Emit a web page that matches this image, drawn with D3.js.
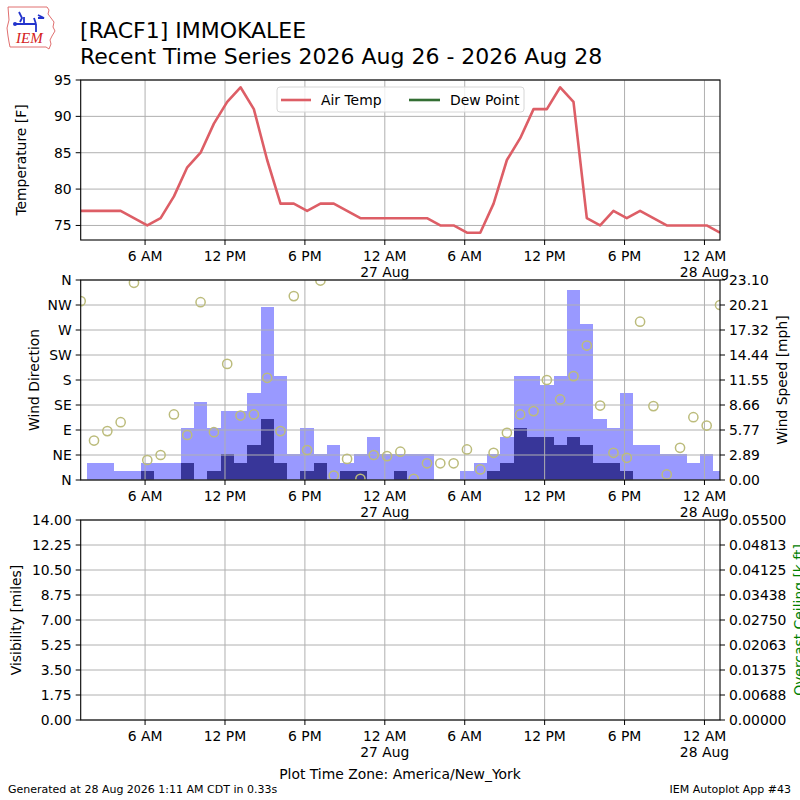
<!DOCTYPE html>
<html><head><meta charset="utf-8">
<script src="https://cdn.jsdelivr.net/npm/d3@7"></script>
<style>body{margin:0;background:#fff}svg{display:block}text{font-family:"DejaVu Sans",sans-serif;fill:#000}</style>
</head><body><svg id="c" width="800" height="800"></svg>
<script>
// ---------------- DATA ----------------
const obsTimes = [
"2026-08-26 01:10","2026-08-26 02:10","2026-08-26 03:10","2026-08-26 04:10","2026-08-26 05:10","2026-08-26 06:10",
"2026-08-26 07:10","2026-08-26 08:10","2026-08-26 09:10","2026-08-26 10:10","2026-08-26 11:10","2026-08-26 12:10",
"2026-08-26 13:10","2026-08-26 14:10","2026-08-26 15:10","2026-08-26 16:10","2026-08-26 17:10","2026-08-26 18:10",
"2026-08-26 19:10","2026-08-26 20:10","2026-08-26 21:10","2026-08-26 22:10","2026-08-26 23:10","2026-08-27 00:10",
"2026-08-27 01:10","2026-08-27 02:10","2026-08-27 03:10","2026-08-27 04:10","2026-08-27 05:10","2026-08-27 06:10",
"2026-08-27 07:10","2026-08-27 08:10","2026-08-27 09:10","2026-08-27 10:10","2026-08-27 11:10","2026-08-27 12:10",
"2026-08-27 13:10","2026-08-27 14:10","2026-08-27 15:10","2026-08-27 16:10","2026-08-27 17:10","2026-08-27 18:10",
"2026-08-27 19:10","2026-08-27 20:10","2026-08-27 21:10","2026-08-27 22:10","2026-08-27 23:10","2026-08-28 00:10",
"2026-08-28 01:10"];
const airTemp = [77,77,77,77,76,75,76,79,83,85,89,92,94,91,84,78,78,77,78,78,77,76,76,76,
                 76,76,76,75,75,74,74,78,84,87,91,91,94,92,76,75,77,76,77,76,75,75,75,75,74];
const dewPoint = []; // no dew point observations in this period
const windGust = [0,2,2,1,1,2,2,2,6,9,6,8,8,10,20,12,3,6,3,4,2,3,5,3,
                  3,3,3,0,0,1,2,3,5,12,12,11,12,22,18,7,6,10,4,4,3,3,2,3,1];
const windSpeed = [0,0,0,0,0,1,0,0,2,0,1,3,2,4,7,2,0,1,2,0,1,1,0,0,
                   1,0,0,0,0,0,0,1,2,6,5,5,4,5,4,2,2,1,0,0,0,0,0,0,0];
const windDir = [322,71,88,104,355,36,45,118,81,320,86,209,116,118,184,88,331,54,359,8,38,2,45,43,
                 51,2,30,30,30,55,19,49,85,118,124,180,145,187,242,134,49,40,285,133,10,58,113,98,315];
const timeDomain = ["2026-08-26 01:10","2026-08-28 01:10"];
const xTickTimes = ["2026-08-26 06:00","2026-08-26 12:00","2026-08-26 18:00","2026-08-27 00:00",
                    "2026-08-27 06:00","2026-08-27 12:00","2026-08-27 18:00","2026-08-28 00:00"];
const xTickLabels = [["6 AM"],["12 PM"],["6 PM"],["12 AM","27 Aug"],["6 AM"],["12 PM"],["6 PM"],["12 AM","28 Aug"]];
const tempDomain = [73,95];
const tempTicks = [75,80,85,90,95];
const dirTicks = [0,45,90,135,180,225,270,315,360];
const dirLabels = ["N","NE","E","SE","S","SW","W","NW","N"];
const speedTicks = [0,2.8875,5.775,8.6625,11.55,14.4375,17.325,20.2125,23.1];
const speedLabels = ["0.00","2.89","5.77","8.66","11.55","14.44","17.32","20.21","23.10"];
const visTicks = [0,1.75,3.5,5.25,7,8.75,10.5,12.25,14];
const visLabels = ["0.00","1.75","3.50","5.25","7.00","8.75","10.50","12.25","14.00"];
const ceilTicks = [0,0.006875,0.01375,0.020625,0.0275,0.034375,0.04125,0.048125,0.055];
const ceilLabels = ["0.00000","0.00688","0.01375","0.02063","0.02750","0.03438","0.04125","0.04813","0.05500"];

// ---------------- LAYOUT ----------------
const svg = d3.select("#c");
const L = 80.7, R = 720;
const panels = [{top:80,bot:240},{top:280,bot:480},{top:520,bot:720}];
const parse = d3.utcParse("%Y-%m-%d %H:%M");
const times = obsTimes.map(parse);
const x = d3.scaleUtc().domain(timeDomain.map(parse)).range([L,R]);
const FS = 13.9, GRID = "#b0b0b0";

const defs = svg.append("defs");
panels.forEach((p,i)=>{
  defs.append("clipPath").attr("id","clip"+i).append("rect")
    .attr("x",L).attr("y",p.top).attr("width",R-L).attr("height",p.bot-p.top);
});

function xGridAndTicks(g,p){
  xTickTimes.forEach((t,i)=>{
    const xx = x(parse(t));
    g.append("line").attr("x1",xx).attr("x2",xx).attr("y1",p.top).attr("y2",p.bot)
      .attr("stroke",GRID).attr("stroke-width",1);
  });
}
function xAxis(p){
  xTickTimes.forEach((t,i)=>{
    const xx = x(parse(t));
    svg.append("line").attr("x1",xx).attr("x2",xx).attr("y1",p.bot).attr("y2",p.bot+5).attr("stroke","#000");
    xTickLabels[i].forEach((s,j)=>{
      svg.append("text").attr("x",xx).attr("y",p.bot+21+j*16).attr("text-anchor","middle")
        .style("font-size",FS+"px").text(s);
    });
  });
}
function yGrid(g,scale,ticks,p){
  ticks.forEach(v=>{
    const yy = scale(v);
    g.append("line").attr("x1",L).attr("x2",R).attr("y1",yy).attr("y2",yy)
      .attr("stroke",GRID).attr("stroke-width",1);
  });
}
function yAxisLeft(scale,ticks,labels){
  ticks.forEach((v,i)=>{
    const yy = scale(v);
    svg.append("line").attr("x1",L-5).attr("x2",L).attr("y1",yy).attr("y2",yy).attr("stroke","#000");
    svg.append("text").attr("x",L-9).attr("y",yy).attr("dy","0.36em").attr("text-anchor","end")
      .style("font-size",FS+"px").text(labels[i]);
  });
}
function yAxisRight(scale,ticks,labels){
  ticks.forEach((v,i)=>{
    const yy = scale(v);
    svg.append("line").attr("x1",R).attr("x2",R+5).attr("y1",yy).attr("y2",yy).attr("stroke","#000");
    svg.append("text").attr("x",R+9).attr("y",yy).attr("dy","0.36em").attr("text-anchor","start")
      .style("font-size",FS+"px").text(labels[i]);
  });
}
function frame(p){
  svg.append("rect").attr("x",L).attr("y",p.top).attr("width",R-L).attr("height",p.bot-p.top)
    .attr("fill","none").attr("stroke","#000").attr("stroke-width",1.1);
}
function yLabel(txt,xx,yy,color){
  svg.append("text").attr("transform",`translate(${xx},${yy}) rotate(-90)`).attr("text-anchor","middle")
    .style("font-size",FS+"px").style("fill",color||"#000").text(txt);
}

// ---------------- PANEL 1: Temperature ----------------
{
  const p = panels[0];
  const y = d3.scaleLinear().domain(tempDomain).range([p.bot,p.top]);
  const g = svg.append("g");
  xGridAndTicks(g,p); yGrid(g,y,tempTicks,p);
  const line = d3.line().x((d,i)=>x(times[i])).y(d=>y(d));
  svg.append("path").attr("clip-path","url(#clip0)").datum(airTemp).attr("d",line)
    .attr("fill","none").attr("stroke","#dd5e66").attr("stroke-width",2.6).attr("stroke-linejoin","round");
  if (dewPoint.length) svg.append("path").datum(dewPoint).attr("d",line)
    .attr("fill","none").attr("stroke","#336e33").attr("stroke-width",2.6);
  frame(p); xAxis(p); yAxisLeft(y,tempTicks,tempTicks.map(String));
  yLabel("Temperature [F]",26,160);
  // legend
  const lg = svg.append("g");
  lg.append("rect").attr("x",277).attr("y",87).attr("width",247).attr("height",25).attr("rx",3)
    .attr("fill","#fff").attr("fill-opacity",0.8).attr("stroke","#d6d6d6");
  lg.append("line").attr("x1",281).attr("x2",311).attr("y1",100).attr("y2",100).attr("stroke","#dd5e66").attr("stroke-width",2.6);
  lg.append("text").attr("x",321).attr("y",105).style("font-size",FS+"px").text("Air Temp");
  lg.append("line").attr("x1",409).attr("x2",440).attr("y1",100).attr("y2",100).attr("stroke","#336e33").attr("stroke-width",2.6);
  lg.append("text").attr("x",450).attr("y",105).style("font-size",FS+"px").text("Dew Point");
}

// ---------------- PANEL 2: Wind ----------------
{
  const p = panels[1];
  const yDir = d3.scaleLinear().domain([0,360]).range([p.bot,p.top]);
  const ySpd = d3.scaleLinear().domain([0,23.1]).range([p.bot,p.top]);
  const half = 30*60*1000;
  const bars = svg.append("g").attr("clip-path","url(#clip1)");
  bars.selectAll("rect.g").data(windGust).join("rect")
    .attr("x",(d,i)=>x(new Date(+times[i]-half))).attr("width",(d,i)=>x(new Date(+times[i]+half))-x(new Date(+times[i]-half)))
    .attr("y",d=>ySpd(d)).attr("height",d=>ySpd(0)-ySpd(d)).attr("fill","#9999ff")
    .attr("shape-rendering","crispEdges");
  bars.selectAll("rect.s").data(windSpeed).join("rect")
    .attr("x",(d,i)=>x(new Date(+times[i]-half))).attr("width",(d,i)=>x(new Date(+times[i]+half))-x(new Date(+times[i]-half)))
    .attr("y",d=>ySpd(d)).attr("height",d=>ySpd(0)-ySpd(d)).attr("fill","#383699")
    .attr("shape-rendering","crispEdges");
  const g = svg.append("g");
  xGridAndTicks(g,p); yGrid(g,yDir,dirTicks,p);
  svg.append("g").attr("clip-path","url(#clip1)").selectAll("circle").data(windDir).join("circle")
    .attr("cx",(d,i)=>x(times[i])).attr("cy",d=>yDir(d)).attr("r",4.6)
    .attr("fill","none").attr("stroke","#bcbc7c").attr("stroke-width",1.5);
  frame(p); xAxis(p);
  yAxisLeft(yDir,dirTicks,dirLabels);
  yAxisRight(ySpd,speedTicks,speedLabels);
  yLabel("Wind Direction",38.5,380);
  yLabel("Wind Speed [mph]",786.5,380);
}

// ---------------- PANEL 3: Visibility / Ceiling ----------------
{
  const p = panels[2];
  const yVis = d3.scaleLinear().domain([0,14]).range([p.bot,p.top]);
  const yCeil = d3.scaleLinear().domain([0,0.055]).range([p.bot,p.top]);
  const g = svg.append("g");
  xGridAndTicks(g,p); yGrid(g,yVis,visTicks,p);
  frame(p); xAxis(p);
  yAxisLeft(yVis,visTicks,visLabels);
  yAxisRight(yCeil,ceilTicks,ceilLabels);
  yLabel("Visibility [miles]",21,620);
  yLabel("Overcast Ceiling [k ft]",803.5,620,"#008000");
}

// ---------------- TEXT ----------------
svg.append("text").attr("x",80).attr("y",38).style("font-size","22px").text("[RACF1] IMMOKALEE");
svg.append("text").attr("x",80).attr("y",64).style("font-size","22px").text("Recent Time Series 2026 Aug 26 - 2026 Aug 28");
svg.append("text").attr("x",400).attr("y",779).attr("text-anchor","middle").style("font-size",FS+"px").text("Plot Time Zone: America/New_York");
svg.append("text").attr("x",8).attr("y",793).style("font-size","11px").text("Generated at 28 Aug 2026 1:11 AM CDT in 0.33s");
svg.append("text").attr("x",791).attr("y",793).attr("text-anchor","end").style("font-size","11px").text("IEM Autoplot App #43");

// ---------------- LOGO ----------------
{
  const lg = svg.append("g");
  lg.append("path").attr("d","M8,7 L47,7 L49,10 L48,14 L51,18 L54,22 L53,27 L55,31 L52,36 L50,40 L51,44 L49,49 L46,47 L10,47 L9,42 L8,36 L7,28 L9,20 Z")
    .attr("fill","none").attr("stroke","#e07070").attr("stroke-width",1);
  lg.append("path").attr("d","M19,12 L22,18 L20,22 M16,24 L36,24 M24,17 L24,24 M38,15 L44,18 L38,18 M36,24 L36,32 M34,18 L36,24")
    .attr("fill","none").attr("stroke","#2233cc").attr("stroke-width",1.8);
  lg.append("circle").attr("cx",15).attr("cy",24).attr("r",2).attr("fill","#2233cc");
  lg.append("text").attr("x",16).attr("y",43).style("font-family","'Liberation Serif',serif").style("font-style","italic")
    .style("font-size","15px").style("fill","#d42020").text("IEM");
}
</script></body></html>
